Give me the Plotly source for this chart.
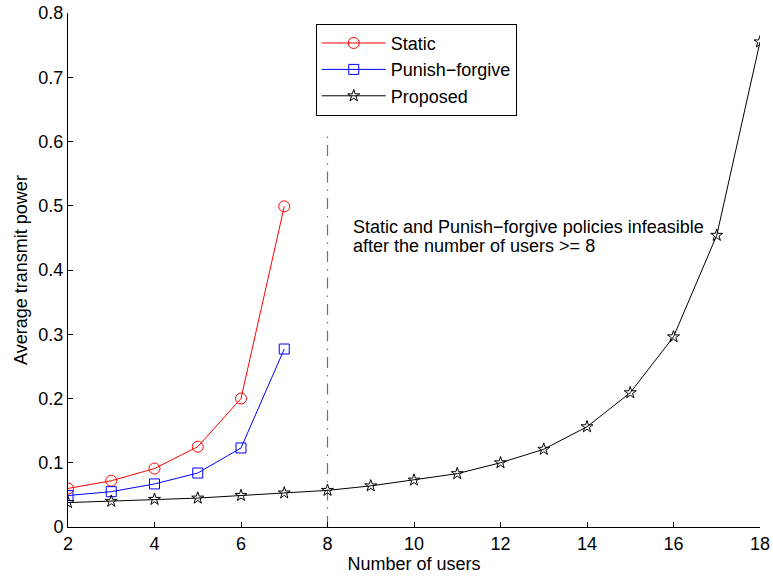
import plotly.graph_objects as go

users_static = [2, 3, 4, 5, 6, 7]
static_power = [0.060, 0.072, 0.091, 0.125, 0.200, 0.499]

users_pf = [2, 3, 4, 5, 6, 7]
pf_power = [0.049, 0.055, 0.067, 0.084, 0.123, 0.277]

users_prop = [2, 3, 4, 5, 6, 7, 8, 9, 10, 11, 12, 13, 14, 15, 16, 17, 18]
prop_power = [0.038, 0.040, 0.043, 0.045, 0.049, 0.053, 0.057, 0.064, 0.073,
              0.083, 0.100, 0.121, 0.156, 0.209, 0.296, 0.454, 0.755]

threshold_users = [8, 8]
threshold_span = [0, 0.615]

x_ticks = [2, 4, 6, 8, 10, 12, 14, 16, 18]
y_ticks = [0, 0.1, 0.2, 0.3, 0.4, 0.5, 0.6, 0.7, 0.8]
y_tick_text = ["0", "0.1", "0.2", "0.3", "0.4", "0.5", "0.6", "0.7", "0.8"]

note_lines = ["Static and Punish\u2212forgive policies infeasible",
              "after the number of users >= 8"]
note_x = 8.55
note_y = [0.467, 0.437]

FONT = "Liberation Sans, Arial, Helvetica, sans-serif"
FS = 18

fig = go.Figure()

fig.add_trace(go.Scatter(
    x=threshold_users, y=threshold_span, mode="lines",
    line=dict(color="#707070", width=1.2, dash="11px,7px,1.5px,7px"),
    showlegend=False, hoverinfo="skip"))

fig.add_trace(go.Scatter(
    x=users_static, y=static_power, mode="lines+markers", name="Static",
    line=dict(color="#ff0000", width=1),
    marker=dict(symbol="circle-open", size=11, color="#ff0000", line=dict(width=1))))

fig.add_trace(go.Scatter(
    x=users_pf, y=pf_power, mode="lines+markers", name="Punish\u2212forgive",
    line=dict(color="#0000ff", width=1),
    marker=dict(symbol="square-open", size=10, color="#0000ff", line=dict(width=1))))

fig.add_trace(go.Scatter(
    x=users_prop, y=prop_power, mode="lines+markers", name="Proposed",
    line=dict(color="#000000", width=1),
    marker=dict(symbol="star-open", size=9, color="#000000", line=dict(width=1))))

for line_text, yy in zip(note_lines, note_y):
    fig.add_annotation(
        x=note_x, y=yy, xref="x", yref="y", text=line_text, showarrow=False,
        xanchor="left", yanchor="middle", align="left",
        font=dict(family=FONT, size=FS, color="#000000"))

fig.update_layout(
    width=773, height=580,
    margin=dict(l=68, r=13, t=13, b=53, autoexpand=False),
    paper_bgcolor="white", plot_bgcolor="white",
    font=dict(family=FONT, size=FS, color="#000000"),
    showlegend=True,
    legend=dict(
        x=0.358, y=0.979, xanchor="left", yanchor="top",
        bgcolor="white", bordercolor="#000000", borderwidth=1,
        font=dict(family=FONT, size=FS, color="#000000"),
        itemwidth=64, tracegroupgap=0),
    xaxis=dict(
        range=[2, 18], tickmode="array", tickvals=x_ticks,
        ticks="inside", ticklen=5, tickcolor="#000000",
        showline=True, linecolor="#000000", linewidth=1,
        showgrid=False, zeroline=False, automargin=False,
        tickfont=dict(family=FONT, size=FS),
        title=dict(text="Number of users", font=dict(family=FONT, size=FS), standoff=2)),
    yaxis=dict(
        range=[0, 0.8], tickmode="array", tickvals=y_ticks, ticktext=y_tick_text,
        ticks="inside", ticklen=5, tickcolor="#000000",
        showline=True, linecolor="#000000", linewidth=1,
        showgrid=False, zeroline=False, automargin=False,
        tickfont=dict(family=FONT, size=FS),
        title=dict(text="Average transmit power", font=dict(family=FONT, size=FS), standoff=6)),
)

fig.write_html("out.html", config={"displayModeBar": False})

with open("out.html", "r", encoding="utf-8") as f:
    html = f.read()
html = html.replace("<head>", "<head><style>html,body{margin:0;padding:0;overflow:hidden}</style>", 1)
with open("out.html", "w", encoding="utf-8") as f:
    f.write(html)
